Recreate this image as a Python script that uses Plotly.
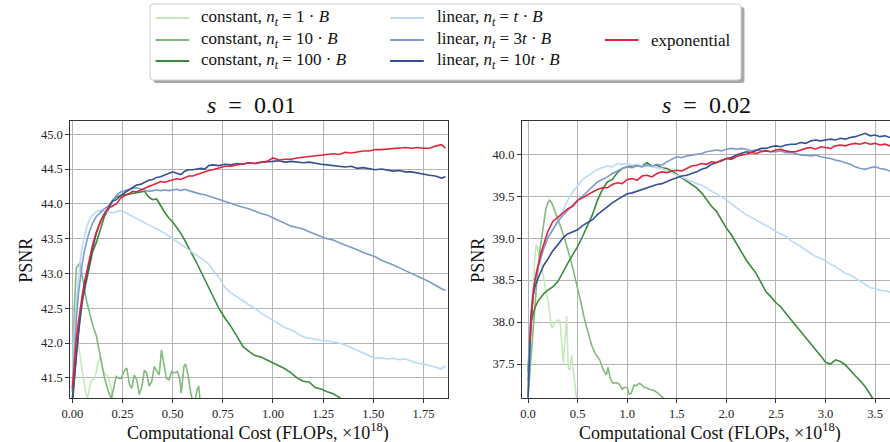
import plotly.graph_objects as go

W, H = 890, 442
FONT = "Liberation Serif, Times New Roman, Times, serif"

# ---------------- data: s = 0.01 (left panel) ----------------
GRID_L = [0.0, 0.005, 0.01, 0.02, 0.03, 0.04, 0.05, 0.06, 0.07, 0.08, 0.09, 0.10,
          0.12, 0.14, 0.16, 0.18, 0.20, 0.22, 0.24, 0.26, 0.28, 0.30, 0.32, 0.34,
          0.36, 0.38, 0.40, 0.42, 0.44, 0.46, 0.48, 0.50, 0.52, 0.54, 0.56, 0.58,
          0.60, 0.62, 0.64, 0.66, 0.68, 0.70, 0.73, 0.76, 0.79, 0.82, 0.85, 0.88,
          0.91, 0.94, 0.97, 1.00, 1.03, 1.06, 1.09, 1.12, 1.15, 1.18, 1.21, 1.24,
          1.27, 1.30, 1.33, 1.36, 1.39, 1.42, 1.45, 1.48, 1.51, 1.54, 1.57, 1.60,
          1.63, 1.66, 1.69, 1.72, 1.75, 1.78, 1.81, 1.84, 1.86]

EXP_L = [41.35, 41.55, 41.75, 42.05, 42.3, 42.52, 42.7, 42.87, 43.0, 43.12, 43.27, 43.4,
         43.6, 43.74, 43.85, 43.94, 43.97, 44.0, 44.08, 44.12, 44.14,
         44.18, 44.17, 44.2, 44.23, 44.25, 44.27, 44.3, 44.32, 44.31, 44.33,
         44.34, 44.36, 44.35, 44.38, 44.4, 44.4, 44.42, 44.45, 44.47, 44.48,
         44.49, 44.52, 44.54, 44.54, 44.56, 44.57, 44.59, 44.58, 44.6, 44.61,
         44.66, 44.63, 44.64, 44.64, 44.66, 44.67, 44.67, 44.69, 44.7, 44.7,
         44.72, 44.71, 44.74, 44.73, 44.75, 44.76, 44.76, 44.78, 44.78, 44.79,
         44.79, 44.8, 44.81, 44.8, 44.81, 44.8, 44.8, 44.83, 44.85, 44.8]

LIN10_L = [41.2, 41.35, 41.55, 41.85, 42.15, 42.42, 42.62, 42.8, 42.95, 43.08, 43.22, 43.35,
           43.58, 43.75, 43.86, 43.95, 44.04, 44.06, 44.12, 44.16, 44.2,
           44.24, 44.27, 44.28, 44.31, 44.34, 44.35, 44.38, 44.39, 44.41, 44.44,
           44.46, 44.44, 44.42, 44.47, 44.49, 44.49, 44.5, 44.51, 44.5, 44.55,
           44.56, 44.55, 44.57, 44.56, 44.58, 44.57, 44.59, 44.58, 44.6, 44.6,
           44.61, 44.62, 44.6, 44.61, 44.6, 44.59, 44.6, 44.58, 44.57, 44.56,
           44.55, 44.55, 44.53, 44.54, 44.51, 44.52, 44.5, 44.49, 44.5, 44.48,
           44.47, 44.48, 44.46, 44.46, 44.44, 44.43, 44.41, 44.4, 44.37, 44.39]

LIN3_L = [41.3, 41.6, 41.9, 42.35, 42.7, 42.95, 43.15, 43.32, 43.45, 43.56, 43.64, 43.72,
          43.82, 43.88, 43.93, 43.97, 44.05, 44.12, 44.17, 44.19, 44.2,
          44.22, 44.23, 44.21, 44.2, 44.18, 44.19, 44.2, 44.19, 44.2, 44.19,
          44.2, 44.21, 44.19, 44.21, 44.19, 44.17, 44.16, 44.14, 44.13, 44.11,
          44.09, 44.06, 44.03, 44.01, 43.98, 43.95, 43.93, 43.89, 43.86, 43.84,
          43.8, 43.77, 43.72, 43.68, 43.66, 43.64, 43.6, 43.56, 43.53, 43.5,
          43.48, 43.44, 43.41, 43.37, 43.34, 43.3, 43.27, 43.24, 43.19, 43.16,
          43.12, 43.08, 43.04, 43.01, 42.97, 42.93, 42.88, 42.83, 42.78, 42.76]

LIN1_L = [41.4, 41.8, 42.15, 42.6, 42.95, 43.2, 43.4, 43.55, 43.65, 43.73, 43.8, 43.84,
          43.89, 43.91, 43.9, 43.88, 43.87, 43.89, 43.9, 43.88, 43.85,
          43.83, 43.8, 43.77, 43.74, 43.71, 43.68, 43.65, 43.62, 43.58, 43.54,
          43.5, 43.47, 43.43, 43.38, 43.35, 43.31, 43.27, 43.23, 43.18, 43.13,
          43.05, 42.95, 42.8, 42.72, 42.66, 42.6, 42.55, 42.5, 42.43, 42.38,
          42.33, 42.28, 42.22, 42.19, 42.14, 42.09, 42.07, 42.05, 42.04, 42.03,
          42.02, 42.0, 41.97, 41.93, 41.89, 41.85, 41.81, 41.78, 41.79, 41.77,
          41.78, 41.76, 41.77, 41.74, 41.71, 41.7, 41.68, 41.66, 41.63, 41.67]

CONST100_L = [41.1, 41.3, 41.5, 41.85, 42.15, 42.4, 42.6, 42.75, 42.88, 43.0, 43.15, 43.3,
              43.45, 43.65, 43.82, 43.92, 44.05, 44.1, 44.12, 44.13, 44.14,
              44.15, 44.15, 44.17, 44.18, 44.1, 44.06, 44.07, 43.97, 43.88, 43.8,
              43.74, 43.66, 43.58, 43.48, 43.36, 43.26, 43.15, 43.03, 42.92, 42.8,
              42.66, 42.5, 42.36, 42.24, 42.1, 41.95, 41.88, 41.82, 41.8, 41.76,
              41.72, 41.68, 41.63, 41.57, 41.5, 41.45, 41.44, 41.36, 41.34, 41.3,
              41.27, 41.22, 41.15]

CONST10_L_X = [0.0, 0.005, 0.01, 0.02, 0.03, 0.038, 0.05, 0.06, 0.071, 0.08, 0.09, 0.104,
               0.12, 0.14, 0.16, 0.18, 0.194, 0.219, 0.232, 0.243, 0.260, 0.271, 0.285,
               0.296, 0.309, 0.321, 0.334, 0.347, 0.359, 0.370, 0.383, 0.396, 0.408,
               0.419, 0.433, 0.444, 0.457, 0.469, 0.482, 0.495, 0.507, 0.523, 0.535,
               0.543, 0.556, 0.564, 0.577, 0.589, 0.605, 0.622, 0.630, 0.638]
CONST10_L_Y = [41.0, 41.9, 42.5, 43.08, 43.12, 43.15, 42.95, 42.75, 42.6, 42.5, 42.38, 42.23,
               42.1, 41.8, 41.5, 41.3, 41.2, 41.52, 41.49, 41.49, 41.61, 41.64, 41.4,
               41.35, 41.54, 41.47, 41.26, 41.38, 41.61, 41.57, 41.38, 41.45, 41.66,
               41.61, 41.54, 41.9, 41.66, 41.49, 41.47, 41.59, 41.57, 41.59, 41.49,
               41.28, 41.66, 41.7, 41.54, 41.3, 41.09, 41.33, 41.38, 41.13]

CONST1_L_X = [0.0, 0.004, 0.008, 0.013, 0.02, 0.03, 0.046, 0.062, 0.074, 0.085, 0.095,
              0.112, 0.128, 0.14, 0.153, 0.165, 0.178, 0.194, 0.205]
CONST1_L_Y = [41.3, 41.9, 42.3, 42.35, 42.2, 41.95, 41.66, 41.37, 41.18, 41.35, 41.47,
              41.49, 41.72, 41.8, 41.6, 41.55, 41.52, 41.33, 41.15]

# ---------------- data: s = 0.02 (right panel) ----------------
GRID_R = [0.0, 0.01, 0.02, 0.03, 0.05, 0.07, 0.10, 0.13, 0.16, 0.20, 0.25, 0.30, 0.35,
          0.40, 0.45, 0.50, 0.55, 0.60, 0.65, 0.70, 0.75, 0.80, 0.85, 0.90, 0.95, 1.00,
          1.05, 1.10, 1.15, 1.20, 1.25, 1.30, 1.35, 1.40, 1.45, 1.50, 1.55, 1.60, 1.65,
          1.70, 1.75, 1.80, 1.85, 1.90, 1.95, 2.00, 2.05, 2.10, 2.15, 2.20, 2.25, 2.30,
          2.35, 2.40, 2.45, 2.50, 2.55, 2.60, 2.65, 2.70, 2.75, 2.80, 2.85, 2.90, 2.95,
          3.00, 3.05, 3.10, 3.15, 3.20, 3.25, 3.30, 3.35, 3.40, 3.45, 3.50, 3.55, 3.60,
          3.65]

EXP_R = [None, None, 37.77, 38.0, 38.3, 38.5, 38.68, 38.82, 38.93, 39.08, 39.2, 39.25,
         39.3, 39.35, 39.38, 39.45, 39.48, 39.52, 39.55, 39.58, 39.6, 39.6, 39.64, 39.66,
         39.65, 39.7, 39.71, 39.69, 39.74, 39.75, 39.73, 39.77, 39.79, 39.78, 39.8, 39.81,
         39.8, 39.83, 39.86, 39.87, 39.89, 39.88, 39.91, 39.9, 39.93, 39.95, 39.94, 39.97,
         39.99, 40.0, 40.02, 40.01, 40.03, 40.04, 40.03, 40.05, 40.06, 40.04, 40.03, 40.03,
         40.05, 40.07, 40.08, 40.06, 40.09, 40.08, 40.07, 40.1, 40.11, 40.1, 40.12, 40.13,
         40.12, 40.14, 40.12, 40.13, 40.11, 40.12, 40.1]

LIN10_R = [37.1, 37.5, 37.8, 38.05, 38.3, 38.42, 38.52, 38.6, 38.68, 38.75, 38.85, 38.92,
           39.0, 39.05, 39.08, 39.1, 39.15, 39.18, 39.22, 39.28, 39.33, 39.38, 39.42, 39.46,
           39.5, 39.53, 39.54, 39.56, 39.58, 39.6, 39.62, 39.64, 39.65, 39.68, 39.7, 39.72,
           39.74, 39.75, 39.77, 39.79, 39.82, 39.84, 39.88, 39.9, 39.92, 39.95, 39.96, 39.99,
           40.01, 40.03, 40.02, 40.05, 40.07, 40.07, 40.09, 40.1, 40.09, 40.11, 40.12, 40.12,
           40.14, 40.13, 40.16, 40.17, 40.16, 40.17, 40.18, 40.17, 40.19, 40.18, 40.2, 40.21,
           40.23, 40.25, 40.22, 40.23, 40.21, 40.22, 40.2]

LIN3_R = [37.3, 37.65, 37.9, 38.1, 38.35, 38.5, 38.65, 38.78, 38.88, 39.0, 39.1, 39.2,
          39.27, 39.33, 39.4, 39.45, 39.5, 39.56, 39.62, 39.67, 39.7, 39.73, 39.77, 39.8,
          39.83, 39.85, 39.84, 39.86, 39.85, 39.87, 39.86, 39.88, 39.87, 39.91, 39.94, 39.97,
          39.96, 39.98, 39.99, 40.0, 40.01, 40.03, 40.04, 40.05, 40.04, 40.06, 40.07, 40.06,
          40.07, 40.06, 40.04, 40.05, 40.04, 40.04, 40.03, 40.03, 40.04, 40.02, 40.02, 40.01,
          39.99, 39.99, 39.98, 39.99, 39.97, 39.96, 39.95, 39.93, 39.92, 39.9, 39.88, 39.85,
          39.83, 39.82, 39.84, 39.85, 39.83, 39.82, 39.8]

LIN1_R = [37.2, 37.6, 37.9, 38.1, 38.4, 38.55, 38.7, 38.82, 38.92, 39.02, 39.1, 39.2,
          39.32, 39.45, 39.55, 39.62, 39.7, 39.74, 39.78, 39.82, 39.84, 39.86, 39.85, 39.89,
          39.88, 39.89, 39.87, 39.88, 39.86, 39.87, 39.85, 39.84, 39.83, 39.8, 39.78, 39.75,
          39.73, 39.7, 39.67, 39.65, 39.63, 39.6, 39.56, 39.53, 39.5, 39.46, 39.41, 39.36,
          39.32, 39.28, 39.25, 39.22, 39.19, 39.16, 39.12, 39.08, 39.05, 39.02, 38.97, 38.94,
          38.9, 38.86, 38.82, 38.78, 38.76, 38.72, 38.69, 38.66, 38.62, 38.58, 38.56, 38.52,
          38.48, 38.44, 38.41, 38.4, 38.38, 38.37, 38.36]

CONST100_R = [37.4, 37.7, 37.9, 38.0, 38.1, 38.17, 38.25, 38.3, 38.34, 38.38, 38.42, 38.48,
              38.6, 38.7, 38.8, 38.9, 39.02, 39.15, 39.28, 39.45, 39.58, 39.67, 39.7, 39.78,
              39.83, 39.85, 39.86, 39.87, 39.86, 39.9, 39.86, 39.87, 39.84, 39.83, 39.8, 39.76,
              39.73, 39.68, 39.64, 39.6, 39.54, 39.46, 39.38, 39.32, 39.22, 39.12, 39.04, 38.94,
              38.84, 38.74, 38.66, 38.58, 38.47, 38.36, 38.3, 38.23, 38.18, 38.1, 38.03, 37.96,
              37.89, 37.81, 37.75, 37.68, 37.6, 37.52, 37.5, 37.55, 37.53, 37.49, 37.42, 37.36,
              37.3, 37.23, 37.14, 37.04]

CONST10_R_X = [0.0, 0.03, 0.06, 0.09, 0.12, 0.15, 0.18, 0.2, 0.216, 0.24, 0.27, 0.306,
               0.34, 0.373, 0.41, 0.44, 0.47, 0.506, 0.54, 0.572, 0.61, 0.64, 0.68, 0.723,
               0.76, 0.79, 0.806, 0.83, 0.856, 0.89, 0.92, 0.95, 0.97, 1.0, 1.02, 1.04,
               1.07, 1.09, 1.12, 1.14, 1.17, 1.19, 1.22, 1.26, 1.29, 1.33, 1.37]
CONST10_R_Y = [37.1, 37.6, 38.1, 38.5, 38.85, 39.12, 39.35, 39.42, 39.45, 39.42, 39.33, 39.22,
               39.1, 38.98, 38.83, 38.7, 38.55, 38.38, 38.2, 38.02, 37.85, 37.73, 37.62, 37.55,
               37.43, 37.37, 37.46, 37.33, 37.27, 37.28, 37.26, 37.2, 37.22, 37.22, 37.14, 37.15,
               37.25, 37.24, 37.27, 37.26, 37.22, 37.22, 37.2, 37.19, 37.17, 37.13, 37.09]

CONST1_R_X = [0.0, 0.03, 0.05, 0.07, 0.083, 0.095, 0.11, 0.14, 0.173, 0.19, 0.206, 0.223,
              0.24, 0.273, 0.306, 0.323, 0.356, 0.39, 0.406, 0.423, 0.44, 0.456, 0.475, 0.49]
CONST1_R_Y = [37.1, 37.9, 38.45, 38.8, 38.92, 38.88, 38.8, 38.66, 38.42, 38.3, 38.23, 38.05,
              37.93, 37.99, 38.03, 38.01, 37.51, 38.07, 37.45, 37.43, 37.61, 37.43, 37.25, 37.08]

# ---------------- labels / styles ----------------
SERIES_NAMES = ["const1", "const10", "const100", "lin1", "lin3", "lin10", "exp"]
LEGEND_TEXT = {
    "const1": "constant, <i>n</i><sub><i>t</i></sub> = 1 · <i>B</i>",
    "const10": "constant, <i>n</i><sub><i>t</i></sub> = 10 · <i>B</i>",
    "const100": "constant, <i>n</i><sub><i>t</i></sub> = 100 · <i>B</i>",
    "lin1": "linear, <i>n</i><sub><i>t</i></sub> = <i>t</i> · <i>B</i>",
    "lin3": "linear, <i>n</i><sub><i>t</i></sub> = 3<i>t</i> · <i>B</i>",
    "lin10": "linear, <i>n</i><sub><i>t</i></sub> = 10<i>t</i> · <i>B</i>",
    "exp": "exponential",
}
COLORS = {
    "const1": "#c5e8bd",
    "const10": "#80bb7c",
    "const100": "#3b8a3b",
    "lin1": "#badaf7",
    "lin3": "#7c9bcc",
    "lin10": "#354f90",
    "exp": "#e2243a",
}
TITLES = ["<i>s</i>&nbsp;&nbsp;=&nbsp;&nbsp;0.01", "<i>s</i>&nbsp;&nbsp;=&nbsp;&nbsp;0.02"]
X_TITLE = "Computational Cost (FLOPs, ×10<sup>18</sup>)"
Y_TITLE = "PSNR"

left = {
    "const1": (CONST1_L_X, CONST1_L_Y),
    "const10": (CONST10_L_X, CONST10_L_Y),
    "const100": (GRID_L[:len(CONST100_L)], CONST100_L),
    "lin1": (GRID_L, LIN1_L),
    "lin3": (GRID_L, LIN3_L),
    "lin10": (GRID_L, LIN10_L),
    "exp": (GRID_L, EXP_L),
}
right = {
    "const1": (CONST1_R_X, CONST1_R_Y),
    "const10": (CONST10_R_X, CONST10_R_Y),
    "const100": (GRID_R[:len(CONST100_R)], CONST100_R),
    "lin1": (GRID_R, LIN1_R),
    "lin3": (GRID_R, LIN3_R),
    "lin10": (GRID_R, LIN10_R),
    "exp": (GRID_R, EXP_R),
}

fig = go.Figure()
for panel, (xa, ya) in ((left, ("x", "y")), (right, ("x2", "y2"))):
    for name in SERIES_NAMES:
        xs, ys = panel[name]
        fig.add_trace(go.Scatter(x=xs, y=ys, mode="lines", xaxis=xa, yaxis=ya,
                                 line=dict(color=COLORS[name], width=1.6),
                                 showlegend=False, hoverinfo="skip"))


def px(x):
    return x / W


def py(y):
    return 1 - y / H


axis_common = dict(showgrid=True, gridcolor="#b4b4b4", gridwidth=1,
                   showline=True, linecolor="#333333", linewidth=1.2,
                   ticks="outside", ticklen=4, tickwidth=1, tickcolor="#333333",
                   tickfont=dict(family=FONT, size=12.5, color="#222222"),
                   zeroline=False, fixedrange=True)

fig.update_layout(
    width=W, height=H, margin=dict(l=0, r=0, t=0, b=0),
    plot_bgcolor="white", paper_bgcolor="white",
    font=dict(family=FONT),
    xaxis=dict(domain=[px(62), px(443)], range=[-0.0099, 1.870], anchor="y",
               tick0=0, dtick=0.25, tickformat=".2f", mirror=True, **axis_common),
    yaxis=dict(domain=[py(398), py(120.7)], range=[41.21, 45.195], anchor="x",
               tick0=41.5, dtick=0.5, tickformat=".1f", mirror=True, **axis_common),
    xaxis2=dict(domain=[px(518.3), 1.0], range=[-0.06, 3.65], anchor="y2",
                tick0=0, dtick=0.5, tickformat=".1f", mirror=True, **axis_common),
    yaxis2=dict(domain=[py(398), py(120.7)], range=[37.095, 40.4], anchor="x2",
                tick0=37.5, dtick=0.5, tickformat=".1f", mirror=False, **axis_common),
)

ann = []
shapes = []
# panel titles and axis titles
for cx, title in ((245, TITLES[0]), (705, TITLES[1])):
    ann.append(dict(x=px(cx), y=py(105), xref="paper", yref="paper", text=title,
                    showarrow=False, xanchor="center", yanchor="middle",
                    font=dict(family=FONT, size=24, color="#111")))
for cx in (251.5, 708):
    ann.append(dict(x=px(cx), y=py(432), xref="paper", yref="paper", text=X_TITLE,
                    showarrow=False, xanchor="center", yanchor="middle",
                    font=dict(family=FONT, size=18, color="#111")))
for cx in (17, 473.5):
    ann.append(dict(x=px(cx), y=py(260), xref="paper", yref="paper", text=Y_TITLE,
                    showarrow=False, xanchor="center", yanchor="middle", textangle=-90,
                    font=dict(family=FONT, size=18, color="#111")))

# legend box with shadow
def rrect(x0, y0, x1, y1, r):
    X0, X1 = px(x0), px(x1)
    Y0, Y1 = py(y0), py(y1)
    rx, ry = r / W, r / H
    return (f"M {X0+rx},{Y0} L {X1-rx},{Y0} Q {X1},{Y0} {X1},{Y0-ry} "
            f"L {X1},{Y1+ry} Q {X1},{Y1} {X1-rx},{Y1} L {X0+rx},{Y1} "
            f"Q {X0},{Y1} {X0},{Y1+ry} L {X0},{Y0-ry} Q {X0},{Y0} {X0+rx},{Y0} Z")

shapes.append(dict(type="path", xref="paper", yref="paper", path=rrect(146, 7, 743, 83, 3),
                   fillcolor="#a8a8a8", line=dict(width=0), layer="above"))
shapes.append(dict(type="path", xref="paper", yref="paper", path=rrect(142.5, 4, 739.5, 80, 3),
                   fillcolor="white", line=dict(color="#cfcfcf", width=1), layer="above"))

legend_slots = {
    "const1": (148, 192, 18), "const10": (148, 192, 40), "const100": (148, 192, 61),
    "lin1": (385, 430, 18), "lin3": (385, 430, 40), "lin10": (385, 430, 61),
    "exp": (602, 647, 40),
}
for name in SERIES_NAMES:
    lx, tx, ly = legend_slots[name]
    shapes.append(dict(type="line", xref="paper", yref="paper",
                       x0=px(lx), x1=px(lx + 34), y0=py(ly), y1=py(ly),
                       line=dict(color=COLORS[name], width=1.8), layer="above"))
    ann.append(dict(x=px(tx), y=py(ly), xref="paper", yref="paper", text=LEGEND_TEXT[name],
                    showarrow=False, xanchor="left", yanchor="middle",
                    font=dict(family=FONT, size=17, color="#111")))

fig.update_layout(annotations=ann, shapes=shapes)
fig.write_html("out.html")
